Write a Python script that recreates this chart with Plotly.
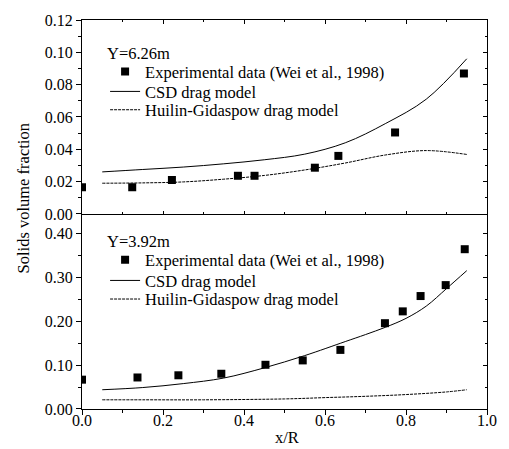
import plotly.graph_objects as go

# ---- data: top panel (Y=6.26m)
exp_top_x = [0.0, 0.124, 0.222, 0.385, 0.426, 0.575, 0.633, 0.773, 0.943]
exp_top_y = [0.0165, 0.0165, 0.021, 0.0236, 0.0236, 0.0286, 0.0359, 0.0504, 0.0869]
csd_top_x = [0.05, 0.15, 0.25, 0.35, 0.45, 0.55, 0.65, 0.75, 0.85, 0.95]
csd_top_y = [0.026, 0.0275, 0.029, 0.031, 0.0335, 0.037, 0.044, 0.056, 0.071, 0.096]
hg_top_x = [0.05, 0.15, 0.25, 0.35, 0.45, 0.55, 0.65, 0.75, 0.85, 0.95]
hg_top_y = [0.019, 0.0192, 0.0198, 0.0215, 0.0238, 0.0272, 0.0315, 0.0365, 0.0392, 0.0368]

# ---- data: bottom panel (Y=3.92m)
exp_bot_x = [0.0, 0.137, 0.238, 0.344, 0.453, 0.545, 0.638, 0.748, 0.792, 0.836, 0.898, 0.945]
exp_bot_y = [0.067, 0.072, 0.077, 0.0805, 0.101, 0.111, 0.135, 0.196, 0.223, 0.258, 0.283, 0.365]
csd_bot_x = [0.05, 0.15, 0.25, 0.35, 0.45, 0.55, 0.65, 0.70, 0.75, 0.80, 0.85, 0.90, 0.95]
csd_bot_y = [0.044, 0.049, 0.058, 0.0707, 0.094, 0.122, 0.154, 0.170, 0.187, 0.207, 0.235, 0.275, 0.316]
hg_bot_x = [0.05, 0.15, 0.30, 0.50, 0.60, 0.70, 0.80, 0.90, 0.95]
hg_bot_y = [0.021, 0.021, 0.021, 0.023, 0.026, 0.029, 0.033, 0.039, 0.044]

labels = ["Experimental data (Wei et al., 1998)", "CSD drag model", "Huilin-Gidaspow drag model"]
titles = ["Y=6.26m", "Y=3.92m"]

FONT = "Liberation Serif, Times New Roman, serif"
LEGFONT = dict(family=FONT, size=16.5, color="black")
fig = go.Figure()

# legend row positions (paper y) for each panel
leg_rows = {"top": [0.8671, 0.8157, 0.7686], "bot": [0.3830, 0.3298, 0.2820]}
title_y = {"top": 0.9144, "bot": 0.4301}
LEG_X = 0.057

legends = {}
def add_panel(key, xa, ya, first_leg, ex, ey, cx, cy, hx, hy):
    names = [f"legend{first_leg + i}" if first_leg + i > 1 else "legend" for i in range(3)]
    fig.add_trace(go.Scatter(x=ex, y=ey, mode="markers", name=labels[0],
                             marker=dict(symbol="square", size=8, color="black"),
                             xaxis=xa, yaxis=ya, legend=names[0], showlegend=True))
    fig.add_trace(go.Scatter(x=cx, y=cy, mode="lines", name=labels[1],
                             line=dict(color="black", width=1, shape="spline"),
                             xaxis=xa, yaxis=ya, legend=names[1], showlegend=True))
    fig.add_trace(go.Scatter(x=hx, y=hy, mode="lines", name=labels[2],
                             line=dict(color="black", width=1, dash="3px,1px", shape="spline"),
                             xaxis=xa, yaxis=ya, legend=names[2], showlegend=True))
    for n, yy in zip(names, leg_rows[key]):
        legends[n] = dict(x=LEG_X, y=yy, xanchor="left", yanchor="middle",
                          bgcolor="rgba(0,0,0,0)", borderwidth=0, font=LEGFONT)

add_panel("top", "x2", "y2", 1, exp_top_x, exp_top_y, csd_top_x, csd_top_y, hg_top_x, hg_top_y)
add_panel("bot", "x", "y", 4, exp_bot_x, exp_bot_y, csd_bot_x, csd_bot_y, hg_bot_x, hg_bot_y)

# empty traces so mirror axes get drawn
for xa, ya in [("x3", "y2"), ("x", "y3"), ("x2", "y4")]:
    fig.add_trace(go.Scatter(x=[], y=[], xaxis=xa, yaxis=ya, showlegend=False, hoverinfo="skip"))

tickfont = dict(family=FONT, size=16, color="black")
axline = dict(showline=True, linecolor="black", linewidth=1, showgrid=False, zeroline=False)

fig.update_layout(
    width=509, height=449,
    showlegend=True,
    margin=dict(l=82, r=13, t=20, b=40),
    plot_bgcolor="white", paper_bgcolor="white",
    font=dict(family=FONT, size=16, color="black"),
    xaxis=dict(domain=[0, 1], range=[0, 1], anchor="y", dtick=0.2, tickformat=".1f",
               ticks="outside", ticklen=5, tickcolor="black", tickfont=tickfont,
               ticklabelstandoff=-8,
               minor=dict(ticks="outside", ticklen=3, dtick=0.1, tickcolor="black"), **axline),
    yaxis=dict(domain=[0, 0.5015], range=[0, 0.4456], anchor="x", dtick=0.1, tickformat=".2f",
               ticks="outside", ticklen=5, tickcolor="black", tickfont=tickfont,
               minor=dict(ticks="outside", ticklen=3, dtick=0.05, tickcolor="black"), **axline),
    xaxis2=dict(domain=[0, 1], range=[0, 1], anchor="y2", dtick=0.2, showticklabels=False,
                ticks="inside", ticklen=3, tickcolor="black",
                minor=dict(ticks="inside", ticklen=2, dtick=0.1, tickcolor="black"), **axline),
    yaxis2=dict(domain=[0.5015, 1], range=[0, 0.12], anchor="x2", dtick=0.02, tickformat=".2f",
                ticks="outside", ticklen=5, tickcolor="black", tickfont=tickfont,
                minor=dict(ticks="outside", ticklen=3, dtick=0.01, tickcolor="black"), **axline),
    xaxis3=dict(range=[0, 1], anchor="y2", overlaying="x2", side="top", dtick=0.2,
                showticklabels=False, ticks="inside", ticklen=4, tickcolor="black",
                minor=dict(ticks="inside", ticklen=2, dtick=0.1, tickcolor="black"), **axline),
    yaxis3=dict(range=[0, 0.4456], anchor="x", overlaying="y", side="right", dtick=0.1,
                showticklabels=False, ticks="inside", ticklen=4, tickcolor="black",
                minor=dict(ticks="inside", ticklen=2, dtick=0.05, tickcolor="black"), **axline),
    yaxis4=dict(range=[0, 0.12], anchor="x2", overlaying="y2", side="right", dtick=0.02,
                showticklabels=False, ticks="inside", ticklen=4, tickcolor="black",
                minor=dict(ticks="inside", ticklen=2, dtick=0.01, tickcolor="black"), **axline),
    annotations=[
        dict(text=titles[0], xref="paper", yref="paper", x=0.0556, y=title_y["top"],
             showarrow=False, xanchor="left", yanchor="middle", font=LEGFONT),
        dict(text=titles[1], xref="paper", yref="paper", x=0.0556, y=title_y["bot"],
             showarrow=False, xanchor="left", yanchor="middle", font=LEGFONT),
        dict(text="Solids volume fraction", xref="paper", yref="paper", x=-0.145, y=0.542,
             textangle=-90, showarrow=False, xanchor="center", yanchor="middle",
             font=dict(family=FONT, size=16.5)),
        dict(text="x/R", xref="paper", yref="paper", x=0.505, y=-0.074,
             showarrow=False, xanchor="center", yanchor="middle",
             font=dict(family=FONT, size=16.5)),
    ],
)
fig.update_layout(**legends)

fig.write_html("out.html")
